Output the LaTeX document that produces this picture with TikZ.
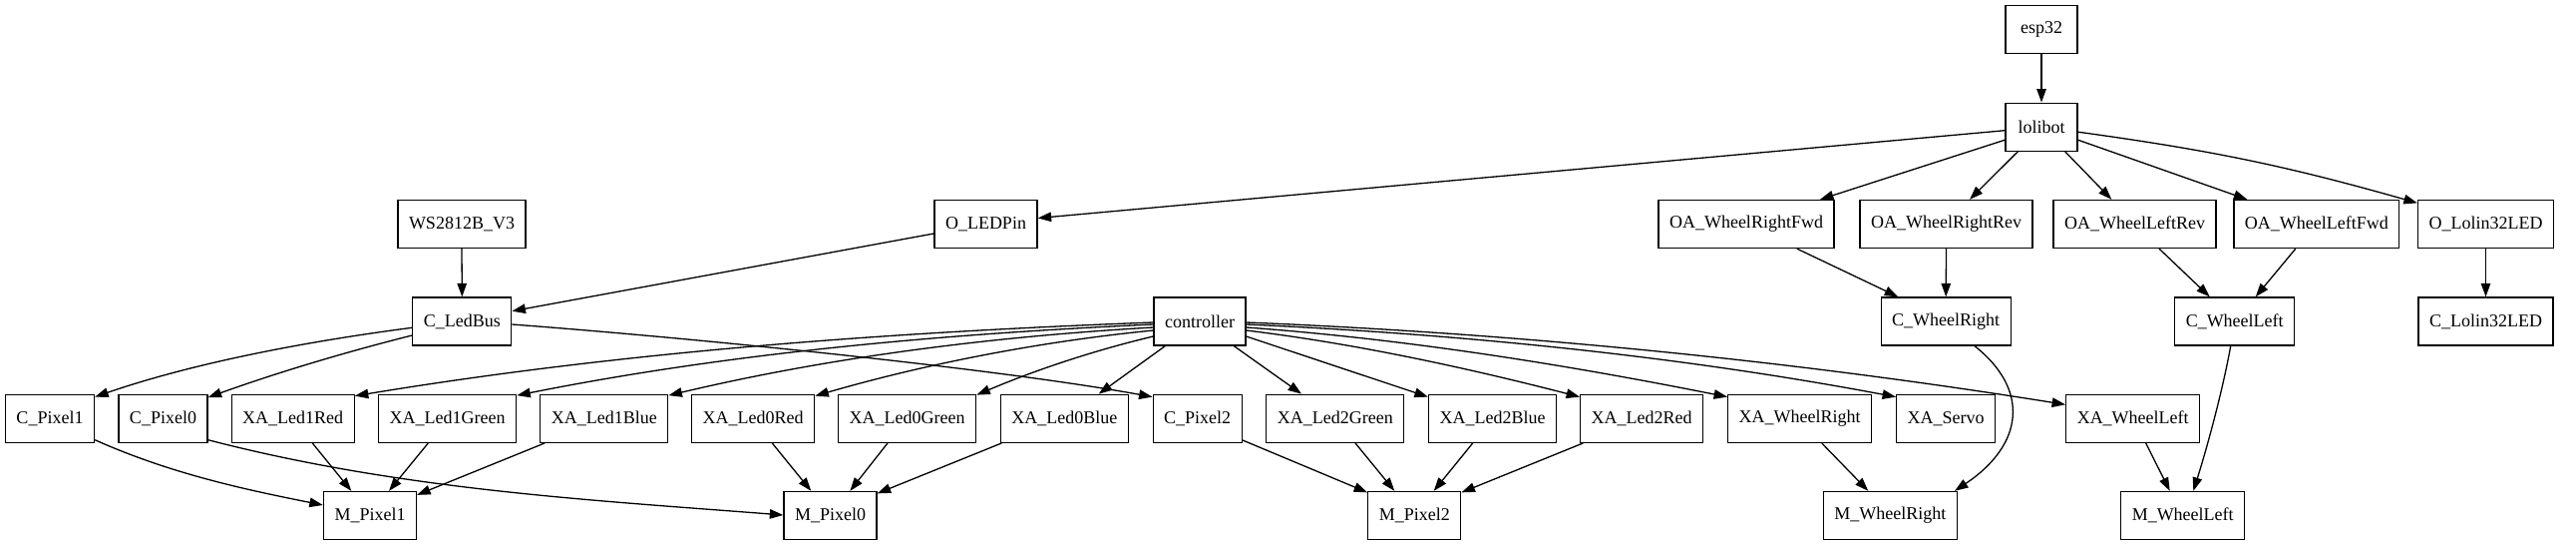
\documentclass[tikz,border=0pt]{standalone}
\usepackage{fontspec}
\setmainfont{Liberation Serif}
\usetikzlibrary{arrows.meta}
\begin{document}
\begin{tikzpicture}[x=1pt,y=-1pt,
  box/.style={draw, line width=1.3pt, rectangle, minimum width=72pt, minimum height=48pt,
              inner xsep=11pt, inner ysep=0pt, font=\fontsize{18}{21.6}\selectfont},
  edge/.style={line width=1.3pt, -{Triangle[length=13.5pt,width=9.5pt]}}]
\fill[white] (0,0) rectangle (2583,547);
\useasboundingbox (0,0) rectangle (2583,547);
% row 0,1
\node[box] (esp32) at (2047,29.5) {esp32};
\node[box] (lolibot) at (2047,127.2) {lolibot};
% row 2
\node[box] (ws) at (463,224.5) {WS2812B\_V3};
\node[box] (oledpin) at (988.5,224.5) {O\_LEDPin};
\node[box] (oawrf) at (1751,224.5) {OA\_WheelRightFwd};
\node[box] (oawrr) at (1951.5,224.5) {OA\_WheelRightRev};
\node[box] (oawlr) at (2140.5,224.5) {OA\_WheelLeftRev};
\node[box] (oawlf) at (2322.8,224.5) {OA\_WheelLeftFwd};
\node[box] (olol) at (2492.5,224.5) {O\_Lolin32LED};
% row 3
\node[box] (cledbus) at (463.3,322) {C\_LedBus};
\node[box] (ctrl) at (1203,322) {controller};
\node[box] (cwr) at (1951.2,322) {C\_WheelRight};
\node[box] (cwl) at (2240.7,322) {C\_WheelLeft};
\node[box] (clol) at (2492.5,322) {C\_Lolin32LED};
% row 4
\node[box] (cp1) at (50,419.3) {C\_Pixel1};
\node[box] (cp0) at (163.5,419.3) {C\_Pixel0};
\node[box] (l1r) at (293.7,419.3) {XA\_Led1Red};
\node[box] (l1g) at (448.7,419.3) {XA\_Led1Green};
\node[box] (l1b) at (605.8,419.3) {XA\_Led1Blue};
\node[box] (l0r) at (755.2,419.3) {XA\_Led0Red};
\node[box] (l0g) at (909.7,419.3) {XA\_Led0Green};
\node[box] (l0b) at (1067.3,419.3) {XA\_Led0Blue};
\node[box] (cp2) at (1200.7,419.3) {C\_Pixel2};
\node[box] (l2g) at (1338.8,419.3) {XA\_Led2Green};
\node[box] (l2b) at (1496.5,419.3) {XA\_Led2Blue};
\node[box] (l2r) at (1646.2,419.3) {XA\_Led2Red};
\node[box] (xwr) at (1804.7,419.3) {XA\_WheelRight};
\node[box] (xservo) at (1951.2,419.3) {XA\_Servo};
\node[box] (xwl) at (2138.7,419.3) {XA\_WheelLeft};
% row 5
\node[box] (mp1) at (371,516.5) {M\_Pixel1};
\node[box] (mp0) at (832.5,516.5) {M\_Pixel0};
\node[box] (mp2) at (1418.3,516.5) {M\_Pixel2};
\node[box] (mwr) at (1895.3,516.5) {M\_WheelRight};
\node[box] (mwl) at (2188.7,516.5) {M\_WheelLeft};
% top edges
\draw[edge] (esp32.south) -- (lolibot.north);
\draw[edge] ([shift={(0,3.5)}]lolibot.west) -- ([shift={(0,-6)}]oledpin.east);
\draw[edge] ([shift={(0,13)}]lolibot.west) -- ([shift={(74,0)}]oawrf.north);
\draw[edge] ([shift={(-23.7,0)}]lolibot.south) -- ([shift={(23.5,0)}]oawrr.north);
\draw[edge] ([shift={(23.7,0)}]lolibot.south) -- ([shift={(-23.2,0)}]oawlr.north);
\draw[edge] ([shift={(0,13)}]lolibot.east) -- ([shift={(-69.5,0)}]oawlf.north);
\draw[edge] ([shift={(0,5)}]lolibot.east) to[bend left=4] ([shift={(0,3.5)}]olol.north west);
\draw[edge] (ws.south) -- (cledbus.north);
\draw[edge] ([shift={(0,9.5)}]oledpin.west) -- ([shift={(0,-10.3)}]cledbus.east);
\draw[edge] ([shift={(50.8,0)}]oawrf.south) -- ([shift={(-48,0)}]cwr.north);
\draw[edge] (oawrr.south) -- (cwr.north);
\draw[edge] ([shift={(24.5,0)}]oawlr.south) -- ([shift={(-25,0)}]cwl.north);
\draw[edge] ([shift={(-21,0)}]oawlf.south) -- ([shift={(21,0)}]cwl.north);
\draw[edge] (olol.south) -- (clol.north);
% C_LedBus fan
\draw[edge] ([shift={(0,6.3)}]cledbus.west) .. controls (300,343) and (190,365) .. ([shift={(0,3)}]cp1.north east);
\draw[edge] ([shift={(0,14)}]cledbus.west) .. controls (345.4,353) and (276.9,373.6) .. ([shift={(0,3.5)}]cp0.north east);
\draw[edge] ([shift={(0,3)}]cledbus.east) .. controls (712.7,340) and (1005.7,370.3) .. ([shift={(0,3)}]cp2.north west);
% controller fan
\draw[edge] ([shift={(0,1)}]ctrl.west) .. controls (889.7,332.9) and (622.3,352.7) .. ([shift={(0,2)}]l1r.north east);
\draw[edge] ([shift={(0,3)}]ctrl.west) .. controls (944.1,334.6) and (731.2,353.7) .. ([shift={(0,1.5)}]l1g.north east);
\draw[edge] ([shift={(0,6)}]ctrl.west) .. controls (994.7,337.2) and (832.3,357.8) .. ([shift={(0,1.5)}]l1b.north east);
\draw[edge] ([shift={(0,9)}]ctrl.west) .. controls (1043.6,342.1) and (930.1,364.1) .. ([shift={(0,2)}]l0r.north east);
\draw[edge] ([shift={(0,15)}]ctrl.west) .. controls (1098,350.8) and (1039,370.4) .. ([shift={(0,1)}]l0g.north east);
\draw[edge] ([shift={(-34.7,0)}]ctrl.south) -- ([shift={(34.4,0)}]l0b.north);
\draw[edge] ([shift={(34.3,0)}]ctrl.south) -- ([shift={(-33.8,0)}]l2g.north);
\draw[edge] ([shift={(0,15)}]ctrl.east) -- ([shift={(0,3)}]l2b.north west);
\draw[edge] ([shift={(0,9)}]ctrl.east) .. controls (1361,344.5) and (1473,369.1) .. ([shift={(0,3)}]l2r.north west);
\draw[edge] ([shift={(0,6)}]ctrl.east) .. controls (1409.9,339.7) and (1570.8,365.5) .. ([shift={(0,3)}]xwr.north west);
\draw[edge] ([shift={(0,3)}]ctrl.east) .. controls (1466.6,334.8) and (1684.1,356.8) .. ([shift={(0,3)}]xservo.north west);
\draw[edge] ([shift={(0,1)}]ctrl.east) .. controls (1523.8,334.1) and (1798.5,361.7) .. ([shift={(0,10.7)}]xwl.north west);
% wheels
\draw[edge] ([shift={(28.8,0)}]cwr.south) .. controls (2035,390) and (2030,445) .. ([shift={(-3,0)}]mwr.north east);
\draw[edge] ([shift={(-4,0)}]cwl.south) .. controls (2228.7,391) and (2213.3,447.5) .. ([shift={(10.6,0)}]mwl.north);
\draw[edge] ([shift={(22,0)}]xwr.south) -- ([shift={(-22,0)}]mwr.north);
\draw[edge] ([shift={(13,0)}]xwl.south) -- ([shift={(-13,0)}]mwl.north);
% pixels
\draw[edge] ([shift={(0,21.4)}]cp1.east) .. controls (171.7,474.9) and (247.7,490.8) .. ([shift={(0,-10.5)}]mp1.west);
\draw[edge] ([shift={(0,21.4)}]cp0.east) .. controls (400.9,490.7) and (593.4,501) .. ([shift={(0,-0.5)}]mp0.west);
\draw[edge] ([shift={(19.6,0)}]l1r.south) -- ([shift={(-18.7,0)}]mp1.north);
\draw[edge] ([shift={(-19.4,0)}]l1g.south) -- ([shift={(19,0)}]mp1.north);
\draw[edge] ([shift={(5,0)}]l1b.south west) -- ([shift={(0,4)}]mp1.north east);
\draw[edge] ([shift={(19.1,0)}]l0r.south) -- ([shift={(-19.2,0)}]mp0.north);
\draw[edge] ([shift={(-19.7,0)}]l0g.south) -- ([shift={(19.8,0)}]mp0.north);
\draw[edge] ([shift={(1.7,0)}]l0b.south west) -- ([shift={(0,2.5)}]mp0.north east);
\draw[edge] ([shift={(0,-3)}]cp2.south east) -- ([shift={(0,1.5)}]mp2.north west);
\draw[edge] ([shift={(20.2,0)}]l2g.south) -- ([shift={(-20,0)}]mp2.north);
\draw[edge] ([shift={(-19.8,0)}]l2b.south) -- ([shift={(19.4,0)}]mp2.north);
\draw[edge] ([shift={(3.3,0)}]l2r.south west) -- ([shift={(0,1.5)}]mp2.north east);
\end{tikzpicture}
\end{document}
